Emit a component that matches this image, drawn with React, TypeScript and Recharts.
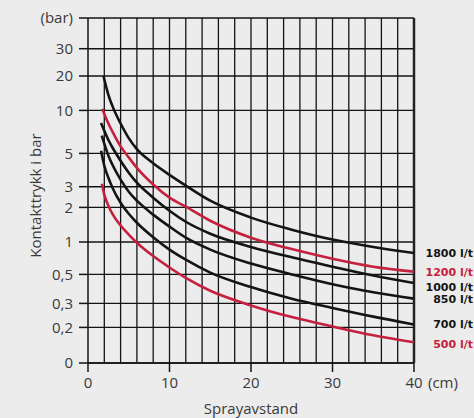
import React from 'react';
import { LineChart, Line, XAxis, YAxis, CartesianGrid, ReferenceLine, LabelList } from 'recharts';

// x axis (cm)
const X_TICKS = [0, 10, 20, 30, 40];
const X_GRID = [2, 4, 6, 8, 10, 12, 14, 16, 18, 20, 22, 24, 26, 28, 30, 32, 34, 36, 38];

// y axis (bar) - the printed grid is not a true log scale
const Y_TICKS = [0, 0.2, 0.3, 0.5, 1, 2, 3, 5, 10, 20, 30];
const Y_TICK_LABELS = ['0', '0,2', '0,3', '0,5', '1', '2', '3', '5', '10', '20', '30'];
const Y_TOP_LABEL = '(bar)';

// series
const S1800_X = [1.9, 2.5, 3, 4, 5, 6, 8, 10, 12, 15, 20, 25, 30, 35, 40];
const S1800_Y = [20, 13.7, 10.9, 8.1, 6.4, 5.35, 4.3, 3.6, 3.05, 2.28, 1.63, 1.28, 1.05, 0.9, 0.79];
const S1200_X = [1.75, 2.5, 3, 4, 5, 6, 8, 10, 12, 15, 20, 25, 30, 35, 40];
const S1200_Y = [10.35, 8.1, 7.1, 5.6, 4.7, 4.0, 3.1, 2.42, 2.03, 1.53, 1.09, 0.86, 0.7, 0.59, 0.53];
const S1000_X = [1.6, 2, 2.5, 3, 4, 5, 6, 8, 10, 12, 15, 20, 25, 30, 35, 40];
const S1000_Y = [8.16, 7.2, 6.2, 5.5, 4.47, 3.72, 3.19, 2.42, 1.87, 1.5, 1.18, 0.9, 0.72, 0.59, 0.49, 0.43];
const S850_X = [1.7, 2, 2.5, 3, 4, 5, 6, 8, 10, 12, 15, 20, 25, 30, 35, 40];
const S850_Y = [6.65, 5.85, 4.83, 4.2, 3.34, 2.72, 2.28, 1.73, 1.36, 1.09, 0.85, 0.63, 0.5, 0.42, 0.365, 0.326];
const S700_X = [1.6, 2, 2.5, 3, 4, 5, 6, 8, 10, 12, 15, 20, 25, 30, 35, 40];
const S700_Y = [5.22, 4.14, 3.44, 2.94, 2.19, 1.76, 1.47, 1.1, 0.85, 0.685, 0.52, 0.4, 0.326, 0.278, 0.24, 0.21];
const S500_X = [1.7, 2, 2.5, 3, 4, 5, 6, 8, 10, 12, 15, 20, 25, 30, 35, 40];
const S500_Y = [3.14, 2.57, 2.07, 1.76, 1.39, 1.16, 0.985, 0.74, 0.58, 0.47, 0.375, 0.29, 0.238, 0.203, 0.156, 0.116];

const SERIES_NAMES = ['1800 l/t', '1200 l/t', '1000 l/t', '850 l/t', '700 l/t', '500 l/t'];

// layout of the printed y grid (height above the x axis in px)
const Y_GRID_HEIGHTS = [0, 35.6, 59.6, 88.6, 121, 155.6, 176.3, 209.6, 252.6, 287, 314.3];
const Y_TOP = 345;

const BLACK = '#141414';
const RED = '#c5203d';
const TEXT = '#3a3a3a';
const FONT = '"Open Sans", sans-serif';

const toPos = (v: number) => {
  if (v <= Y_TICKS[1]) return (v / Y_TICKS[1]) * Y_GRID_HEIGHTS[1];
  let i = 1;
  while (i < Y_TICKS.length - 2 && v > Y_TICKS[i + 1]) i++;
  const f = Math.log(v / Y_TICKS[i]) / Math.log(Y_TICKS[i + 1] / Y_TICKS[i]);
  return Y_GRID_HEIGHTS[i] + f * (Y_GRID_HEIGHTS[i + 1] - Y_GRID_HEIGHTS[i]);
};

const build = (xs: number[], ys: number[]) => xs.map((x, i) => ({ x, y: toPos(ys[i]), bar: ys[i] }));

const series = [
  { name: SERIES_NAMES[0], data: build(S1800_X, S1800_Y), color: BLACK, dy: 0 },
  { name: SERIES_NAMES[1], data: build(S1200_X, S1200_Y), color: RED, dy: 0 },
  { name: SERIES_NAMES[2], data: build(S1000_X, S1000_Y), color: BLACK, dy: 4 },
  { name: SERIES_NAMES[3], data: build(S850_X, S850_Y), color: BLACK, dy: 0 },
  { name: SERIES_NAMES[4], data: build(S700_X, S700_Y), color: BLACK, dy: 0 },
  { name: SERIES_NAMES[5], data: build(S500_X, S500_Y), color: RED, dy: 2 },
];

const yTicks = [...Y_GRID_HEIGHTS, Y_TOP];
const yLabel = (p: number) => {
  const i = yTicks.indexOf(p);
  return i >= 0 && i < Y_TICK_LABELS.length ? Y_TICK_LABELS[i] : Y_TOP_LABEL;
};

const XTick = (props: any) => {
  const { x, y, payload } = props;
  const last = payload.value === X_TICKS[X_TICKS.length - 1];
  return (
    <g>
      <text x={x} y={y} dy="0.71em" textAnchor="middle" fill={TEXT} fontSize={15} fontFamily={FONT}>
        {payload.value}
      </text>
      {last && (
        <text x={x + 14} y={y} dy="0.71em" textAnchor="start" fill={TEXT} fontSize={15} fontFamily={FONT}>
          (cm)
        </text>
      )}
    </g>
  );
};

const endLabel = (lastIdx: number, text: string, color: string, dy: number) => (props: any) => {
  if (props.index !== lastIdx) return null;
  const x = props.x ?? props.viewBox?.x;
  const y = props.y ?? props.viewBox?.y;
  return (
    <text x={x + 59} y={y + dy} dy="0.35em" textAnchor="end" fill={color} fontSize={11}
      fontWeight="bold" fontFamily='"DejaVu Sans", sans-serif'>
      {text}
    </text>
  );
};

export default function App() {
  return (
    <div style={{ position: 'absolute', left: 0, top: 0, width: 474, height: 418, background: '#ececec' }}>
      <LineChart width={474} height={418} margin={{ top: 18, right: 60, bottom: 25, left: 0 }}>
        <CartesianGrid vertical={false} stroke={BLACK} strokeWidth={1.4} strokeDasharray="" />
        {X_GRID.map((v) => (
          <ReferenceLine key={v} x={v} stroke={BLACK} strokeWidth={1.3} />
        ))}
        <ReferenceLine x={40} stroke="#222" strokeWidth={2.5} />
        <XAxis
          type="number"
          dataKey="x"
          domain={[0, 40]}
          ticks={X_TICKS}
          allowDataOverflow
          height={30}
          tickSize={9}
          tickMargin={5}
          axisLine={{ stroke: BLACK, strokeWidth: 1.5 }}
          tickLine={{ stroke: BLACK, strokeWidth: 1.5 }}
          tick={<XTick />}
          label={{
            content: (p: any) => (
              <text x={p.viewBox.x + p.viewBox.width / 2} y={414} textAnchor="middle" fill={TEXT}
                fontSize={15} fontFamily={FONT}>
                Sprayavstand
              </text>
            ),
          }}
        />
        <YAxis
          type="number"
          dataKey="y"
          domain={[0, Y_TOP]}
          ticks={yTicks}
          interval={0}
          width={88}
          tickSize={9}
          tickMargin={6}
          tickFormatter={yLabel}
          axisLine={{ stroke: BLACK, strokeWidth: 1.5 }}
          tickLine={{ stroke: BLACK, strokeWidth: 1.5 }}
          tick={{ fill: TEXT, fontSize: 15, fontFamily: FONT }}
          label={{
            content: (p: any) => {
              const cx = 35;
              const cy = p.viewBox.y + p.viewBox.height / 2 + 5;
              return (
                <text x={cx} y={cy} transform={`rotate(-90 ${cx} ${cy})`} textAnchor="middle"
                  dominantBaseline="central" fill={TEXT} fontSize={15} fontFamily={FONT}>
                  Kontakttrykk i bar
                </text>
              );
            },
          }}
        />
        {series.map((s) => (
          <Line
            key={s.name}
            data={s.data}
            dataKey="y"
            type="monotone"
            stroke={s.color}
            strokeWidth={2.6}
            dot={false}
            activeDot={false}
            isAnimationActive={false}
          >
            <LabelList dataKey="y" content={endLabel(s.data.length - 1, s.name, s.color, s.dy)} />
          </Line>
        ))}
      </LineChart>
    </div>
  );
}
